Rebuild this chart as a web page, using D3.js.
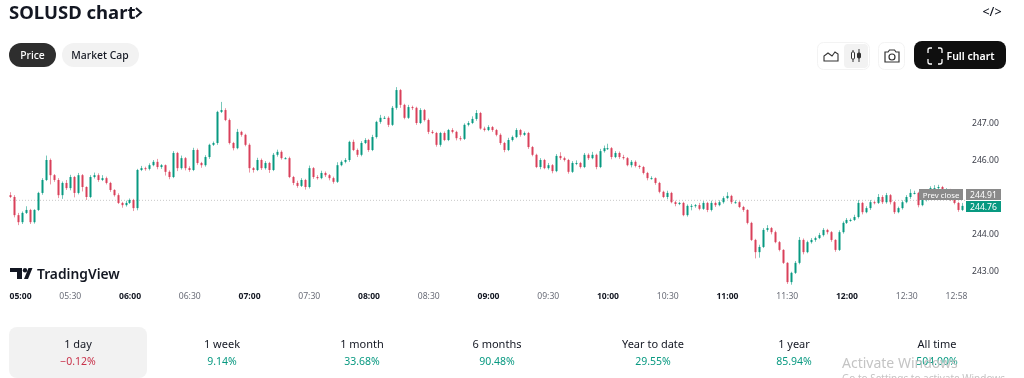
<!DOCTYPE html>
<html>
<head>
<meta charset="utf-8">
<script src="https://cdn.jsdelivr.net/npm/d3@7"></script>
<style>
  html, body { margin: 0; background: #fff; overflow: hidden; }
  /* the reference is a soft, slightly blurred screenshot */
  svg { display: block; filter: blur(0.35px); }
  text { font-family: "Noto Sans", sans-serif; }
  .axis path, .axis line { display: none; }
</style>
</head>
<body>
<div id="chart"></div>
<script>
// SOLUSD 2-minute candles. open = previous close
const firstOpen = 245.05;
const closes = [
  245.00,244.51,244.32,244.57,244.65,244.32,244.65,245.11,245.46,246.00,245.59,245.46,245.05,245.38,245.24,245.54,245.11,245.59,245.27,245.00,
  245.54,245.59,245.46,245.51,245.38,245.19,245.05,244.84,244.78,244.84,244.92,244.70,245.73,245.78,245.76,245.86,245.95,245.81,245.86,245.68,
  245.54,246.19,245.78,246.05,245.78,245.73,246.27,245.92,245.86,246.08,246.41,246.46,247.30,247.35,247.08,246.46,246.32,246.76,246.68,246.41,
  245.78,245.73,246.00,245.78,245.92,245.73,246.14,246.22,246.05,246.05,245.54,245.38,245.30,245.46,245.27,245.78,245.54,245.51,245.65,245.59,
  245.51,245.41,245.86,245.95,246.00,246.49,246.27,246.14,246.46,246.54,246.27,246.62,247.03,247.14,247.14,246.95,247.41,247.89,247.49,247.14,
  247.43,247.41,247.00,247.35,247.08,246.76,246.73,246.41,246.73,246.54,246.81,246.76,246.59,246.57,246.95,247.00,247.11,247.27,246.85,246.81,
  246.89,246.81,246.68,246.46,246.27,246.54,246.62,246.81,246.68,246.73,246.35,246.14,245.81,246.00,245.78,245.86,245.70,246.11,246.05,246.00,
  245.68,245.92,245.92,245.81,246.14,246.05,246.14,245.81,246.24,246.32,246.32,246.08,246.19,246.08,246.05,245.86,245.95,245.84,245.81,245.65,
  245.51,245.51,245.38,245.14,245.00,245.11,244.86,244.81,244.84,244.51,244.76,244.76,244.78,244.68,244.84,244.65,244.84,244.78,244.86,244.97,
  245.03,244.86,244.86,244.73,244.65,244.30,243.84,243.51,243.65,244.11,244.16,244.05,243.78,243.57,243.22,242.70,242.95,243.22,243.84,243.51,
  243.78,243.84,243.89,243.97,244.11,244.05,243.84,243.57,244.05,244.30,244.38,244.38,244.46,244.84,244.59,244.70,244.86,244.84,245.00,244.86,
  245.05,244.86,244.59,244.70,244.86,245.00,245.11,245.11,244.78,244.92,245.11,245.24,245.24,245.27,245.19,245.19,244.92,244.84,244.65,244.76
];
// how far the wicks stick out past the body, in price
const wickUp = [
  .08,.05,.06,.04,.10,.03,.02,.03,.05,.12,.04,.03,.05,.04,.08,.06,.03,.06,.03,.02,
  .05,.07,.05,.08,.04,.03,.02,.05,.03,.06,.04,.03,.03,.06,.04,.05,.05,.08,.03,.02,
  .04,.05,.03,.07,.03,.05,.06,.04,.03,.05,.03,.04,.03,.22,.05,.04,.03,.08,.03,.03,
  .04,.03,.06,.04,.05,.03,.05,.06,.04,.03,.04,.03,.06,.05,.03,.07,.03,.05,.06,.04,
  .03,.04,.08,.04,.05,.03,.06,.04,.05,.05,.03,.06,.03,.08,.05,.04,.05,.08,.03,.03,
  .06,.04,.03,.05,.03,.04,.05,.03,.03,.04,.03,.05,.03,.06,.04,.05,.07,.08,.03,.05,
  .05,.03,.03,.04,.03,.06,.04,.05,.03,.04,.03,.03,.03,.05,.03,.06,.03,.05,.10,.04,
  .03,.05,.07,.03,.05,.04,.08,.03,.06,.07,.12,.03,.05,.04,.06,.03,.05,.04,.03,.03,
  .03,.05,.02,.03,.03,.06,.03,.04,.03,.03,.04,.05,.03,.06,.05,.03,.06,.04,.05,.05,
  .10,.03,.05,.03,.03,.02,.03,.03,.06,.05,.08,.03,.04,.03,.02,.02,.03,.05,.08,.04,
  .04,.05,.04,.06,.05,.03,.03,.02,.05,.04,.05,.04,.06,.08,.03,.05,.06,.03,.08,.05,
  .06,.03,.03,.04,.05,.05,.10,.06,.03,.04,.06,.05,.08,.06,.03,.05,.03,.03,.03,.08
];
const wickDown = [
  .03,.06,.08,.05,.03,.05,.04,.03,.05,.03,.25,.05,.08,.10,.05,.06,.12,.04,.12,.08,
  .03,.04,.05,.03,.04,.05,.04,.03,.07,.04,.03,.08,.06,.03,.05,.04,.03,.06,.05,.10,
  .06,.03,.08,.04,.06,.05,.03,.05,.07,.04,.05,.03,.05,.03,.03,.04,.06,.03,.05,.04,
  .12,.07,.03,.05,.04,.08,.03,.05,.04,.03,.03,.06,.05,.03,.07,.04,.05,.04,.03,.05,
  .06,.05,.03,.03,.04,.05,.03,.06,.04,.03,.05,.03,.04,.05,.03,.06,.03,.05,.08,.04,
  .03,.06,.05,.03,.04,.06,.03,.05,.05,.03,.03,.04,.06,.05,.03,.04,.03,.05,.03,.04,
  .03,.05,.04,.05,.06,.03,.04,.03,.05,.03,.05,.04,.03,.06,.03,.04,.06,.03,.05,.04,
  .05,.03,.06,.04,.03,.05,.03,.06,.03,.04,.05,.06,.03,.05,.04,.03,.06,.04,.05,.04,
  .06,.04,.05,.04,.03,.06,.03,.06,.03,.03,.04,.12,.05,.04,.03,.06,.04,.05,.03,.04,
  .03,.05,.04,.03,.05,.04,.03,.17,.15,.03,.05,.06,.03,.04,.03,.05,.07,.03,.04,.06,
  .03,.04,.05,.03,.04,.06,.05,.05,.03,.04,.03,.05,.03,.04,.06,.03,.05,.04,.03,.05,
  .04,.06,.05,.03,.04,.03,.05,.04,.06,.03,.04,.03,.05,.03,.04,.05,.03,.04,.05,.03
];

// time axis, in minutes since 05:00
const tickMinutes = [0,30,60,90,120,150,180,210,240,270,300,330,360,390,420,450,478];
const tickLabels = ["05:00","05:30","06:00","06:30","07:00","07:30","08:00","08:30","09:00","09:30","10:00","10:30","11:00","11:30","12:00","12:30","12:58"];
const priceTicks = [243,244,246,247];

const prevClose = 244.91;
const lastPrice = 244.76;

const rangeLabels = ["1 day","1 week","1 month","6 months","Year to date","1 year","All time"];
const rangeValues = [-0.12,9.14,33.68,90.48,29.55,85.94,504.00];
const rangeCentres = [78,222,362,497,653,794,937];

const GREEN = "#089981", RED = "#d9405a";

const svg = d3.select("#chart").append("svg").attr("width", 1024).attr("height", 378);
svg.append("rect").attr("width", 1024).attr("height", 378).attr("fill", "#fff");

const x = d3.scaleLinear().domain([0, 478]).range([10, 962]);
const y = d3.scaleLinear().domain([243, 247]).range([271, 123]);

const candles = closes.map((c, i) => {
  const o = i ? closes[i - 1] : firstOpen;
  return { t: i * 2, o, c, h: Math.max(o, c) + wickUp[i], l: Math.min(o, c) - wickDown[i] };
});

// header
svg.append("text").attr("x", 9).attr("y", 18.500).attr("font-size", 18.5).attr("font-weight", 700)
    .attr("fill", "#131722").text("SOLUSD chart");
svg.append("path").attr("d", "M136 8l5 4.500-5 4.500").attr("fill", "none").attr("stroke", "#131722").attr("stroke-width", 2);
svg.append("text").attr("x", 992).attr("y", 15.5).attr("text-anchor", "middle").attr("font-size", 12.5)
    .attr("font-weight", 500).attr("fill", "#131722").text("</>");

// price / market cap pills
svg.append("rect").attr("x", 9).attr("y", 43).attr("width", 47).attr("height", 24).attr("rx", 12).attr("fill", "#2e2e2e");
svg.append("text").attr("x", 32.5).attr("y", 59).attr("text-anchor", "middle").attr("font-size", 10.4)
    .attr("font-weight", 500).attr("fill", "#fff").text("Price");
svg.append("rect").attr("x", 62).attr("y", 43).attr("width", 77).attr("height", 24).attr("rx", 12).attr("fill", "#f2f2f2");
svg.append("text").attr("x", 100).attr("y", 59).attr("text-anchor", "middle").attr("font-size", 10.4)
    .attr("font-weight", 500).attr("fill", "#131722").text("Market Cap");

// toolbar on the right
svg.append("rect").attr("x", 817.5).attr("y", 42.5).attr("width", 52).attr("height", 27).attr("rx", 6)
    .attr("fill", "#fff").attr("stroke", "#f3f3f3");
svg.append("rect").attr("x", 844).attr("y", 44).attr("width", 24).attr("height", 24).attr("rx", 4).attr("fill", "#f2f2f2");
svg.append("path").attr("d", "M824 61v-5l4-3 4 3 3-4 3 2v7z").attr("fill", "none").attr("stroke", "#333").attr("stroke-width", 1.1);
svg.append("path").attr("d", "M853 50v12M859 49v13").attr("stroke", "#333").attr("stroke-width", 1);
svg.append("rect").attr("x", 851.5).attr("y", 52).attr("width", 3).attr("height", 7).attr("rx", 1).attr("fill", "#fff").attr("stroke", "#333");
svg.append("rect").attr("x", 857.5).attr("y", 53).attr("width", 3).attr("height", 5).attr("rx", 1).attr("fill", "#333").attr("stroke", "#333");
svg.append("rect").attr("x", 878.5).attr("y", 42.5).attr("width", 26).attr("height", 27).attr("rx", 6)
    .attr("fill", "#fff").attr("stroke", "#f3f3f3");
svg.append("path").attr("d", "M885 52h3l1.5-2h5l1.5 2h3v10h-14z").attr("fill", "none").attr("stroke", "#333").attr("stroke-width", 1.2);
svg.append("circle").attr("cx", 892).attr("cy", 57).attr("r", 3).attr("fill", "none").attr("stroke", "#333").attr("stroke-width", 1.2);
svg.append("rect").attr("x", 914).attr("y", 41).attr("width", 92).attr("height", 28).attr("rx", 8).attr("fill", "#0f0f0f");
svg.append("path").attr("d", "M928 53v-3a2 2 0 0 1 2-2h2M938 48h2a2 2 0 0 1 2 2v3M942 59v3a2 2 0 0 1-2 2h-2M932 64h-2a2 2 0 0 1-2-2v-3")
    .attr("fill", "none").attr("stroke", "#fff").attr("stroke-width", 1.3);
svg.append("text").attr("x", 970.5).attr("y", 60).attr("text-anchor", "middle").attr("font-size", 10.5)
    .attr("font-weight", 600).attr("fill", "#fff").text("Full chart");

// prev close dotted line sits under the candles
svg.append("line").attr("x1", 10).attr("x2", 965).attr("y1", y(prevClose)).attr("y2", y(prevClose))
    .attr("stroke", "#c8c8c8").attr("stroke-dasharray", "1 2");

const plot = svg.append("g");
plot.selectAll("line.wick").data(candles).join("line").attr("class", "wick")
    .attr("x1", d => Math.round(x(d.t)) + 0.5).attr("x2", d => Math.round(x(d.t)) + 0.5)
    .attr("y1", d => y(d.h)).attr("y2", d => y(d.l))
    .attr("stroke", d => d.c >= d.o ? GREEN : RED).attr("stroke-opacity", 0.55);
plot.selectAll("rect.body").data(candles).join("rect").attr("class", "body")
    .attr("x", d => Math.round(x(d.t)) - 0.5).attr("width", 2)
    .attr("y", d => y(Math.max(d.o, d.c)))
    .attr("height", d => Math.max(1, Math.abs(y(d.o) - y(d.c))))
    .attr("fill", d => d.c >= d.o ? GREEN : RED);

// axes
const xAxis = svg.append("g").attr("class", "axis").attr("transform", "translate(0,293)")
    .call(d3.axisBottom(x).tickValues(tickMinutes).tickSize(0).tickPadding(0)
      .tickFormat((d, i) => tickLabels[i]));
xAxis.selectAll("text")
    .attr("font-size", 8.6)
    .attr("dy", "0.72em")
    .attr("dx", d => d === 0 ? 10 : d === 478 ? -6 : 0)
    .attr("font-weight", d => d % 60 === 0 ? 700 : 400)
    .attr("fill", d => d % 60 === 0 ? "#131722" : "#6a6d78");

const yAxis = svg.append("g").attr("class", "axis").attr("transform", "translate(972,0)")
    .call(d3.axisRight(y).tickValues(priceTicks).tickSize(0).tickPadding(0).tickFormat(d3.format(".2f")));
yAxis.selectAll("text").attr("font-size", 8.6).attr("fill", "#3a3d48");

// prev close + last price labels
svg.append("rect").attr("x", 919).attr("y", 189).attr("width", 44).attr("height", 11).attr("fill", "#8a8a8a");
svg.append("text").attr("x", 941).attr("y", 197.5).attr("text-anchor", "middle").attr("font-size", 7.8).attr("fill", "#fff").text("Prev close");
svg.append("rect").attr("x", 966).attr("y", 189).attr("width", 35).attr("height", 11).attr("fill", "#8a8a8a");
svg.append("text").attr("x", 983.5).attr("y", 197.5).attr("text-anchor", "middle").attr("font-size", 8.6).attr("fill", "#fff").text(prevClose.toFixed(2));
svg.append("rect").attr("x", 966).attr("y", 201).attr("width", 35).attr("height", 11).attr("fill", GREEN);
svg.append("text").attr("x", 983.5).attr("y", 209.5).attr("text-anchor", "middle").attr("font-size", 8.6).attr("fill", "#fff").text(lastPrice.toFixed(2));

// TradingView logo
svg.append("path").attr("d", "M10 268h12v11h-5v-7h-7z").attr("fill", "#131722");
svg.append("circle").attr("cx", 25).attr("cy", 270.2).attr("r", 2.2).attr("fill", "#131722");
svg.append("path").attr("d", "M24 279l4.500-11h4l-4.500 11z").attr("fill", "#131722");
svg.append("text").attr("x", 37).attr("y", 279).attr("font-size", 13.8).attr("font-weight", 600)
    .attr("fill", "#131722").text("TradingView");

// range tiles
svg.append("rect").attr("x", 9).attr("y", 327).attr("width", 138).attr("height", 51).attr("rx", 8).attr("fill", "#f2f2f2");
const tiles = svg.append("g").selectAll("g").data(rangeLabels).join("g")
    .attr("transform", (d, i) => `translate(${rangeCentres[i]},0)`);
tiles.append("text").attr("y", 348).attr("text-anchor", "middle").attr("font-size", 11)
    .attr("fill", "#131722").text(d => d);
tiles.append("text").attr("y", 365).attr("text-anchor", "middle").attr("font-size", 10.5)
    .attr("fill", (d, i) => rangeValues[i] < 0 ? "#c8324a" : GREEN)
    .text((d, i) => (rangeValues[i] < 0 ? "−" : "") + Math.abs(rangeValues[i]).toFixed(2) + "%");

// windows watermark in the screenshot
svg.append("text").attr("x", 842).attr("y", 368).attr("font-size", 14).attr("fill", "#c4c4c4").text("Activate Windows");
svg.append("text").attr("x", 842).attr("y", 382).attr("font-size", 10).attr("fill", "#c4c4c4").text("Go to Settings to activate Windows.");
</script>
</body>
</html>
